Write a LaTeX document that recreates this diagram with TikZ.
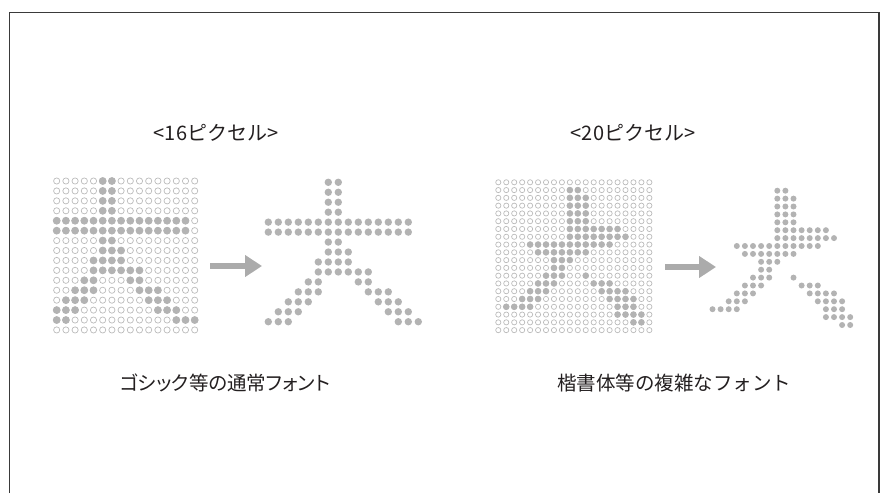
\documentclass[tikz,border=0pt]{standalone}
\usepackage{fontspec}
\setmainfont{Noto Sans CJK JP}
\newfontfamily\paltfont[RawFeature=+palt]{Noto Sans CJK JP}
\usetikzlibrary{arrows.meta}
\definecolor{dotgray}{HTML}{B3B3B3}
\definecolor{ringgray}{HTML}{BBBBBB}
\definecolor{framegray}{HTML}{3A3A3A}
\definecolor{arrowgray}{HTML}{ABABAB}
\definecolor{textdark}{HTML}{231F20}
\begin{document}
\begin{tikzpicture}[x=1pt,y=-1pt,
  fulldot/.style={fill=dotgray, draw=none},
  ringdot/.style={draw=ringgray, line width=0.7pt, fill=none},
  toplabel/.style={font=\fontsize{20}{24}\selectfont, text=textdark, inner sep=0pt},
  botlabel/.style={font=\fontsize{19.5}{23}\selectfont, text=textdark, inner sep=0pt},
  bigarrow/.style={draw=arrowgray, line width=6pt, -{Triangle[length=17pt,width=21pt]}},
  framestyle/.style={draw=framegray, line width=1.3pt}]
\useasboundingbox (0,0) rectangle (885,493);
% frame (open at bottom)
\draw[framestyle] (9.5,493) -- (9.5,12.3) -- (879,12.3) -- (879,493);

% titles
\node[toplabel] (t16) at (216,133) {<16ピクセル>};
\node[toplabel] (t20) at (633,133) {<20ピクセル>};
\node[botlabel] (b1) at (225,383) {\paltfont ゴシック等の通常フォント};
\node[botlabel] (b2) at (674,383) {楷書体等の複雑なフォント};

% ---------- left grid 16x16 ----------
\foreach \r in {0,...,15}{\foreach \c in {0,...,15}{
  \draw[ringdot] ({56.7+9.2*\c},{181+9.93*\r}) circle[radius=3.1];}}
\foreach \r/\cols in {0/{5,6},1/{5,6},2/{5,6},3/{5,6},4/{0,...,14},5/{0,...,14},
  6/{5,6},7/{5,6,7},8/{4,5,6,7},9/{4,...,9},10/{3,4,8,9},11/{2,3,4,9,10,11},
  12/{1,2,3,10,11,12},13/{0,1,2,11,12,13},14/{0,1,13,14,15}}{
  \foreach \c in \cols {\fill[fulldot] ({56.7+9.2*\c},{181+9.93*\r}) circle[radius=3.9];}}

% ---------- left 大 ----------
\foreach \r/\cols in {0/{6,7},1/{6,7},2/{6,7},3/{6,7},4/{0,...,14},5/{0,...,14},
  6/{6,7},7/{6,7,8},8/{5,6,7,8},9/{5,...,10},10/{4,5,9,10},11/{3,4,5,10,11,12},
  12/{2,3,4,11,12,13},13/{1,2,3,12,13,14},14/{0,1,2,13,14,15}}{
  \foreach \c in \cols {\fill[fulldot] ({268.3+10*\c},{182.3+9.96*\r}) circle[radius=3.7];}}

% ---------- right grid 20x20 ----------
\foreach \r in {0,...,19}{\foreach \c in {0,...,19}{
  \draw[ringdot] ({498.3+7.95*\c},{182.3+7.78*\r}) circle[radius=2.6];}}
\foreach \r/\cols in {1/{9,10},2/{9,10,11},3/{9,10,11},4/{9,10,11},5/{9,10,11},
  6/{9,...,15},7/{9,...,16},8/{4,...,14},9/{5,...,11},10/{7,8,9},11/{7,8},
  12/{6,7,8,11},13/{5,6,7,12,13,14},14/{4,5,6,13,14,15,16},15/{3,4,5,14,15,16,17},
  16/{1,2,3,4,15,16,17},17/{15,16,17,18},18/{17,18}}{
  \foreach \c in \cols {\fill[fulldot] ({498.3+7.95*\c},{182.3+7.78*\r}) circle[radius=3.3];}}

% ---------- right 大 ----------
\foreach \r/\cols in {1/{9,10},2/{9,10,11},3/{9,10,11},4/{9,10,11},5/{9,10,11},
  6/{9,...,15},7/{9,...,16},8/{4,...,14},9/{5,...,11},10/{7,8,9},11/{7,8},
  12/{6,7,8,11},13/{5,6,7,12,13,14},14/{4,5,6,13,14,15,16},15/{3,4,5,14,15,16,17},
  16/{1,2,3,4,15,16,17},17/{15,16,17,18},18/{17,18}}{
  \foreach \c in \cols {\fill[fulldot] ({704.4+8.1*\c},{182.8+7.9*\r}) circle[radius=3.0];}}

% arrows
\coordinate (a1s) at (210,266);
\coordinate (a1e) at (262,266);
\coordinate (a2s) at (665,267);
\coordinate (a2e) at (716,267);
\draw[bigarrow] (a1s) -- (a1e);
\draw[bigarrow] (a2s) -- (a2e);
\end{tikzpicture}
\end{document}
